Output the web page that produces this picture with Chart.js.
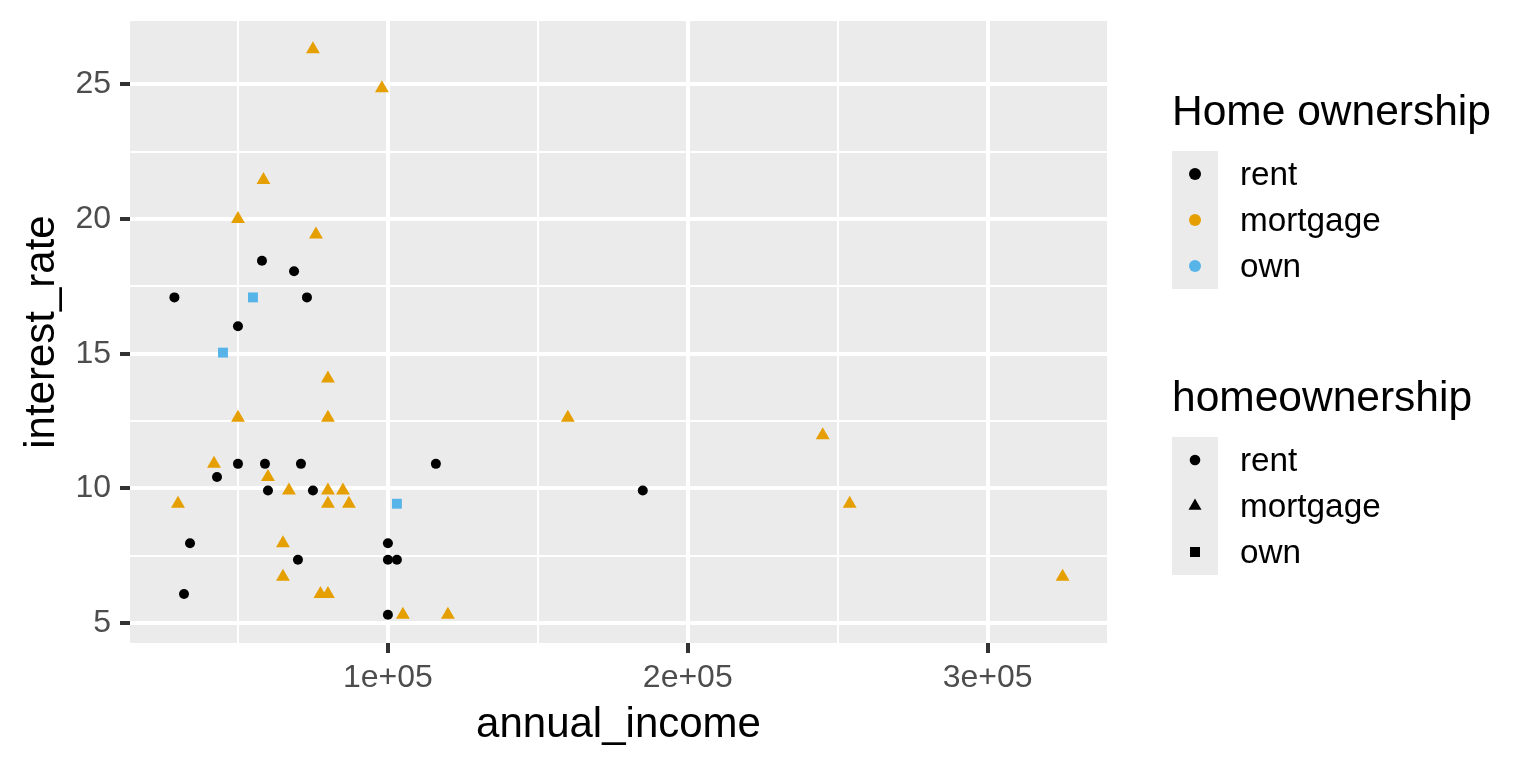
<!DOCTYPE html>
<html>
<head>
<meta charset="utf-8">
<script src="https://cdn.jsdelivr.net/npm/chart.js@4.4.1/dist/chart.umd.min.js"></script>
<style>
  html, body { margin: 0; padding: 0; background: #fff; }
  #wrap { position: relative; width: 1536px; height: 768px; font-family: "Liberation Sans", Arial, Helvetica, sans-serif; }
  #chart { position: absolute; left: 0; top: 0; }
  .lg-title { position: absolute; font-size: 42.5px; line-height: 50px; white-space: nowrap; color: #000; }
  .lg-keys { position: absolute; background: #EBEBEB; }
  .lg-label { position: absolute; font-size: 33.3px; line-height: 46px; white-space: nowrap; color: #000; }
  .lg-key { position: absolute; overflow: visible; }
</style>
</head>
<body>
<div id="wrap">
  <canvas id="chart" width="1536" height="768"></canvas>
</div>
<script>
// groups (homeownership), their colours and point shapes
const categories = ['rent', 'mortgage', 'own'];
const colors = ['#000000', '#E69F00', '#56B4E9'];
const shapes = ['circle', 'triangle', 'rect'];
const legendTitles = ['Home ownership', 'homeownership'];

// annual_income / interest_rate
const rentIncome = [28800, 58000, 68700, 73000, 50000, 50000, 59000, 71000, 116000, 43000,
  60000, 75000, 185000, 34000, 100000, 70000, 100000, 103000, 32000, 100000];
const rentRate = [17.09, 18.45, 18.06, 17.09, 16.02, 10.91, 10.91, 10.91, 10.91, 10.42,
  9.92, 9.92, 9.92, 7.96, 7.96, 7.35, 7.35, 7.35, 6.08, 5.31];

const mortgageIncome = [75000, 98000, 58500, 50000, 76000, 80000, 50000, 80000, 160000, 42000,
  60000, 67000, 80000, 85000, 30000, 80000, 87000, 254000, 245000, 65000,
  65000, 77500, 80000, 105000, 120000, 325000];
const mortgageRate = [26.30, 24.85, 21.45, 20.00, 19.42, 14.08, 12.62, 12.62, 12.62, 10.91,
  10.42, 9.92, 9.92, 9.92, 9.43, 9.43, 9.43, 9.43, 11.97, 7.96,
  6.72, 6.08, 6.08, 5.31, 5.31, 6.72];

const ownIncome = [55000, 45000, 103000];
const ownRate = [17.09, 15.04, 9.43];

// axis ticks
const xMajorTicks = [100000, 200000, 300000];
const xTickLabels = ['1e+05', '2e+05', '3e+05'];
const xMinorTicks = [50000, 150000, 250000];
const yMajorTicks = [5, 10, 15, 20, 25];
const yTickLabels = ['5', '10', '15', '20', '25'];
const yMinorTicks = [7.5, 12.5, 17.5, 22.5];

const incomes = [rentIncome, mortgageIncome, ownIncome];
const rates = [rentRate, mortgageRate, ownRate];
const radii = [5, 8, 7];

const FONT = '"Liberation Sans", Arial, Helvetica, sans-serif';
Chart.defaults.font.family = FONT;

const hasVal = (list, v) => list.some(m => Math.abs(m - v) < 1e-9);

// grey panel behind the grid, like ggplot's theme_grey
const panelBg = {
  id: 'panelBg',
  beforeDraw(chart) {
    const { ctx, chartArea: a } = chart;
    ctx.save();
    ctx.fillStyle = '#EBEBEB';
    ctx.fillRect(a.left, a.top, a.right - a.left, a.bottom - a.top);
    ctx.restore();
  }
};

function axisGrid(major) {
  return {
    color: '#FFFFFF',
    lineWidth: c => hasVal(major, c.tick.value) ? 4 : 2,
    tickColor: c => hasVal(major, c.tick.value) ? '#333333' : 'rgba(0,0,0,0)',
    tickWidth: 4,
    tickLength: 10,
    drawTicks: true
  };
}

new Chart(document.getElementById('chart'), {
  type: 'scatter',
  data: {
    datasets: categories.map((c, i) => ({
      label: c,
      data: incomes[i].map((x, j) => ({ x: x, y: rates[i][j] })),
      pointStyle: shapes[i],
      pointRadius: radii[i],
      pointHoverRadius: radii[i],
      backgroundColor: colors[i],
      borderColor: colors[i],
      borderWidth: 0
    }))
  },
  options: {
    responsive: false,
    animation: false,
    events: [],
    layout: { padding: { left: 0, top: 21, right: 429, bottom: 0 } },
    plugins: { legend: { display: false }, tooltip: { enabled: false } },
    scales: {
      x: {
        type: 'linear',
        min: 13990,
        max: 339810,
        afterFit: s => { s.height = 125; s.paddingLeft = 0; s.paddingRight = 0; },
        afterBuildTicks: s => {
          s.ticks = xMinorTicks.concat(xMajorTicks).sort((a, b) => a - b).map(v => ({ value: v }));
        },
        border: { display: false },
        grid: axisGrid(xMajorTicks),
        ticks: {
          autoSkip: false, maxRotation: 0, padding: 6,
          color: '#4D4D4D', font: { size: 32 },
          callback: v => { const i = xMajorTicks.indexOf(v); return i >= 0 ? xTickLabels[i] : ''; }
        },
        title: {
          display: true, text: 'annual_income', color: '#000',
          font: { size: 42 }, padding: { top: 0, bottom: 17 }
        }
      },
      y: {
        type: 'linear',
        min: 4.26,
        max: 27.35,
        afterFit: s => { s.width = 130; s.paddingTop = 0; s.paddingBottom = 0; },
        afterBuildTicks: s => {
          s.ticks = yMinorTicks.concat(yMajorTicks).sort((a, b) => a - b).map(v => ({ value: v }));
        },
        border: { display: false },
        grid: axisGrid(yMajorTicks),
        ticks: {
          autoSkip: false, padding: 9,
          color: '#4D4D4D', font: { size: 32 },
          callback: v => { const i = yMajorTicks.indexOf(v); return i >= 0 ? yTickLabels[i] : ''; }
        },
        title: {
          display: true, text: 'interest_rate', color: '#000',
          font: { size: 42 }, padding: { top: 17, bottom: 0 }
        }
      }
    }
  },
  plugins: [panelBg]
});

// legends (two guides, like ggplot's colour + shape guides)
const wrap = document.getElementById('wrap');
const NS = 'http://www.w3.org/2000/svg';

function marker(shape, color, size) {
  const svg = document.createElementNS(NS, 'svg');
  svg.setAttribute('width', 46);
  svg.setAttribute('height', 46);
  svg.setAttribute('class', 'lg-key');
  let el;
  if (shape === 'circle') {
    el = document.createElementNS(NS, 'circle');
    el.setAttribute('cx', 23); el.setAttribute('cy', 23); el.setAttribute('r', size);
  } else if (shape === 'triangle') {
    el = document.createElementNS(NS, 'polygon');
    const r = size, h = r * Math.sqrt(3) / 2;
    el.setAttribute('points', `23,${23 - r} ${23 + h},${23 + r / 2} ${23 - h},${23 + r / 2}`);
  } else {
    el = document.createElementNS(NS, 'rect');
    el.setAttribute('x', 23 - size); el.setAttribute('y', 23 - size);
    el.setAttribute('width', size * 2); el.setAttribute('height', size * 2);
  }
  el.setAttribute('fill', color);
  svg.appendChild(el);
  return svg;
}

function addLegend(title, top, keyFn) {
  const t = document.createElement('div');
  t.className = 'lg-title';
  t.textContent = title;
  t.style.left = '1172px';
  t.style.top = (top - 65) + 'px';
  wrap.appendChild(t);

  const box = document.createElement('div');
  box.className = 'lg-keys';
  box.style.left = '1172px';
  box.style.top = top + 'px';
  box.style.width = '46px';
  box.style.height = (46 * categories.length) + 'px';
  wrap.appendChild(box);

  categories.forEach((c, i) => {
    const m = keyFn(i);
    m.style.left = '1172px';
    m.style.top = (top + 46 * i) + 'px';
    wrap.appendChild(m);
    const lab = document.createElement('div');
    lab.className = 'lg-label';
    lab.textContent = c;
    lab.style.left = '1240px';
    lab.style.top = (top + 46 * i) + 'px';
    wrap.appendChild(lab);
  });
}

addLegend(legendTitles[0], 151, i => marker('circle', colors[i], 6));
addLegend(legendTitles[1], 437, i => marker(shapes[i], '#000', [5.3, 7.5, 5][i]));
</script>
</body>
</html>
